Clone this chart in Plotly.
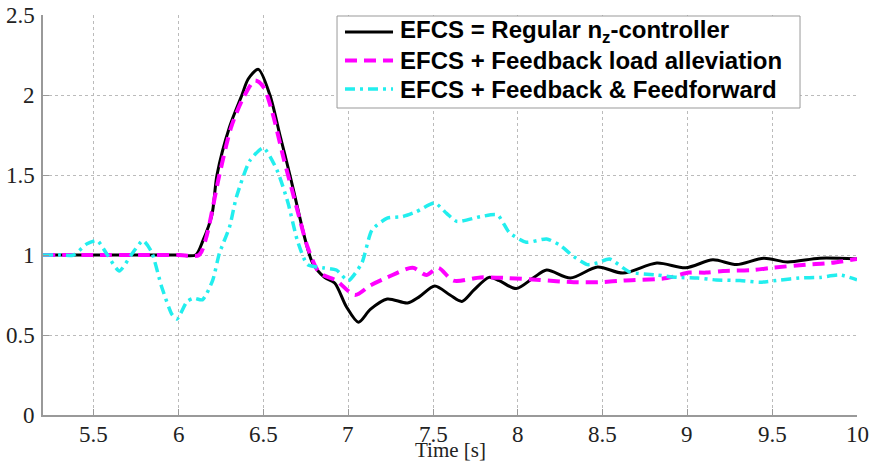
import plotly.graph_objects as go

# Time axis samples and responses for the three controller variants
t_regular = [5.2, 5.5, 5.8, 6.0, 6.10, 6.143, 6.196, 6.226, 6.30, 6.373, 6.41, 6.47, 6.538,
             6.597, 6.656, 6.70, 6.745, 6.79, 6.86, 6.92, 6.99, 7.06, 7.13, 7.23, 7.35,
             7.42, 7.51, 7.60, 7.67, 7.74, 7.83, 7.89, 7.99, 8.09, 8.17, 8.31, 8.47,
             8.62, 8.82, 8.99, 9.15, 9.29, 9.45, 9.59, 9.78, 10.0]
nz_regular = [1.0, 1.0, 1.0, 1.0, 1.0, 1.09, 1.25, 1.5, 1.8, 2.0, 2.1, 2.16, 2.0,
              1.75, 1.5, 1.3, 1.1, 0.95, 0.86, 0.825, 0.675, 0.58, 0.66, 0.725, 0.70,
              0.74, 0.806, 0.75, 0.71, 0.78, 0.86, 0.84, 0.79, 0.856, 0.906, 0.856, 0.925,
              0.887, 0.95, 0.92, 0.97, 0.94, 0.98, 0.956, 0.98, 0.975]

t_feedback = [5.2, 5.5, 5.8, 6.0, 6.12, 6.16, 6.24, 6.31, 6.38, 6.45, 6.50, 6.55, 6.62,
              6.67, 6.715, 6.76, 6.83, 6.93, 7.04, 7.13, 7.23, 7.38, 7.46, 7.53, 7.62,
              7.78, 7.94, 8.13, 8.33, 8.48, 8.62, 8.88, 9.01, 9.11, 9.21, 9.39, 9.50,
              9.70, 9.84, 10.0]
nz_feedback = [1.0, 1.0, 1.0, 1.0, 1.0, 1.1, 1.5, 1.8, 1.98, 2.09, 2.05, 1.9, 1.6,
               1.4, 1.22, 1.05, 0.89, 0.84, 0.75, 0.81, 0.86, 0.92, 0.875, 0.92, 0.84,
               0.86, 0.856, 0.844, 0.83, 0.83, 0.84, 0.856, 0.89, 0.89, 0.90, 0.906, 0.92,
               0.94, 0.95, 0.975]

t_feedforward = [5.2, 5.3, 5.38, 5.46, 5.52, 5.58, 5.65, 5.72, 5.79, 5.84, 5.90, 5.96,
                 5.99, 6.05, 6.09, 6.14, 6.20, 6.24, 6.30, 6.34, 6.42, 6.50, 6.58, 6.645,
                 6.70, 6.76, 6.85, 6.93, 7.0, 7.08, 7.14, 7.23, 7.32, 7.40, 7.51, 7.58,
                 7.64, 7.78, 7.88, 7.95, 8.05, 8.17, 8.25, 8.33, 8.41, 8.47, 8.54, 8.66,
                 8.82, 8.94, 9.06, 9.17, 9.31, 9.43, 9.55, 9.66, 9.78, 9.9, 10.0]
nz_feedforward = [1.0, 1.0, 1.0, 1.07, 1.09, 1.0, 0.9, 1.0, 1.09, 1.02, 0.8, 0.63,
                  0.6, 0.71, 0.73, 0.72, 0.84, 1.01, 1.175, 1.36, 1.59, 1.67, 1.53, 1.325,
                  1.09, 0.94, 0.92, 0.906, 0.84, 0.95, 1.156, 1.23, 1.24, 1.27, 1.325, 1.26,
                  1.21, 1.24, 1.25, 1.14, 1.08, 1.10, 1.06, 0.99, 0.94, 0.95, 0.975, 0.894,
                  0.875, 0.86, 0.856, 0.844, 0.84, 0.83, 0.844, 0.856, 0.86, 0.875, 0.845]

x_ticks = [5.5, 6, 6.5, 7, 7.5, 8, 8.5, 9, 9.5, 10]
x_tick_labels = ["5.5", "6", "6.5", "7", "7.5", "8", "8.5", "9", "9.5", "10"]
y_ticks = [0, 0.5, 1, 1.5, 2, 2.5]
y_tick_labels = ["0", "0.5", "1", "1.5", "2", "2.5"]

names = ["EFCS = Regular n<sub>z</sub>-controller",
         "EFCS + Feedback load alleviation",
         "EFCS + Feedback & Feedforward"]
colors = ["black", "#ff00ff", "#22eeee"]
widths = [3, 4, 3.5]
dashes = ["solid", "12px,7px", "10px,5px,3px,5px"]

fig = go.Figure()
series = [(t_regular, nz_regular, 0.8), (t_feedback, nz_feedback, 0.8),
          (t_feedforward, nz_feedforward, 0.6)]
for i, (tx, ny, sm) in enumerate(series):
    fig.add_trace(go.Scatter(x=tx, y=ny, mode="lines", name=names[i], showlegend=False,
                             line=dict(color=colors[i], width=widths[i], dash=dashes[i],
                                       shape="spline", smoothing=sm)))

serif = "Liberation Serif"
label_font = dict(family=serif, size=23, color="#222")

# Legend box drawn in paper coordinates (plot area spans 0..1)
shapes = [dict(type="rect", xref="paper", yref="paper", x0=0.3612, x1=0.930,
               y0=0.7675, y1=0.9975, line=dict(color="#999", width=1),
               fillcolor="white", layer="above")]
annotations = []
row_y = [0.9575, 0.886, 0.815]
for i in range(3):
    shapes.append(dict(type="line", xref="paper", yref="paper", x0=0.371, x1=0.430,
                       y0=row_y[i], y1=row_y[i], layer="above",
                       line=dict(color=colors[i], width=widths[i], dash=dashes[i])))
    annotations.append(dict(text=f"<b>{names[i]}</b>", xref="paper", yref="paper",
                            x=0.4361, y=row_y[i], xanchor="left", yanchor="middle",
                            showarrow=False,
                            font=dict(family="Liberation Sans", size=24, color="black")))

# Serif tick labels placed at the axis tick values
for v, s in zip(x_ticks, x_tick_labels):
    annotations.append(dict(text=s, xref="x", yref="paper", x=v, y=-0.0125,
                            xanchor="center", yanchor="top", showarrow=False,
                            font=label_font))
for v, s in zip(y_ticks, y_tick_labels):
    annotations.append(dict(text=s, xref="paper", yref="y", x=-0.0074, y=v,
                            xanchor="right", yanchor="middle", showarrow=False,
                            font=label_font))
annotations.append(dict(text="Time [s]", xref="paper", yref="paper", x=0.5, y=-0.122,
                        xanchor="center", yanchor="bottom", showarrow=False,
                        font=dict(family=serif, size=21, color="#222")))

axis_style = dict(showline=True, linecolor="#999", linewidth=1.5, mirror=False,
                  ticks="inside", ticklen=6, tickcolor="#999", showticklabels=False,
                  showgrid=True, gridcolor="#bbb", griddash="dot", gridwidth=1,
                  zeroline=False, automargin=False)

fig.update_layout(
    width=869, height=464,
    margin=dict(l=43, r=12, t=15, b=49),
    paper_bgcolor="white", plot_bgcolor="white",
    showlegend=False,
    shapes=shapes,
    annotations=annotations,
    xaxis=dict(range=[5.2, 10], tickvals=x_ticks, **axis_style),
    yaxis=dict(range=[0, 2.5], tickvals=y_ticks, **axis_style),
)

fig.write_html("out.html")
